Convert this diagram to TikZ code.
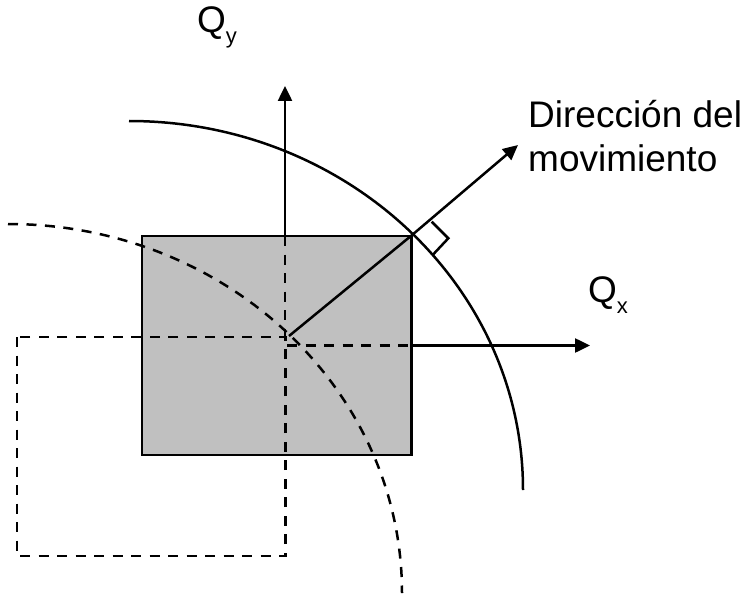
\documentclass[tikz,border=0pt]{standalone}
\usepackage{fontspec}
\setmainfont{Liberation Sans}
\usetikzlibrary{arrows.meta}
\begin{document}
\begin{tikzpicture}[x=1pt,y=-1pt,
  solidline/.style={line width=2.5pt},
  dsh/.style={line width=2.5pt, dash pattern=on 10pt off 8.5pt},
  arr/.style={line width=2.5pt,-{Triangle[length=15pt,width=14pt]}},
  lbl/.style={font=\fontsize{37}{44}\selectfont, inner sep=0pt, anchor=base west},
]
\useasboundingbox (0,0) rectangle (749,596);
% coordinates
\coordinate (gTL) at (142,236);
\coordinate (gBR) at (411.5,455);
\coordinate (P) at (411.5,235.5);
\coordinate (dTL) at (17,337);
\coordinate (dBR) at (285.5,556);
\coordinate (O) at (289,336);
\coordinate (dirTip) at (518,145);
\coordinate (qyBase) at (285,236);
\coordinate (qyMid) at (285,337);
\coordinate (qyTip) at (285,86);
\coordinate (qxStart) at (287,345.5);
\coordinate (qxBase) at (411.5,345.5);
\coordinate (qxTip) at (590,345.5);
\coordinate (arcS) at (129,121);
\coordinate (arcD) at (8,224);
\coordinate (mA) at (431.7,221.7);
\coordinate (mC) at (448.3,238.3);
\coordinate (mB) at (433.3,254.3);
% gray box
\filldraw[fill={rgb,255:red,192;green,192;blue,192}, solidline] (gTL) rectangle (gBR);
% dashed box and dashed lines
\draw[dsh] (dTL) rectangle (dBR);
\draw[dsh] (qyBase) -- (qyMid);
\draw[dsh] (qxStart) -- (qxBase);
% arcs
\draw[solidline] (arcS) arc[start angle=90, end angle=0, x radius=394pt, y radius=369pt];
\draw[dsh] (arcD) arc[start angle=90, end angle=0, x radius=394pt, y radius=369pt];
% axes
\draw[arr] (qyBase) -- (qyTip);
\draw[arr] (qxBase) -- (qxTip);
% direction of motion
\draw[arr] (O) -- (P) -- (dirTip);
% right angle marker
\draw[solidline] (mA) -- (mC) -- (mB);
% labels
\node[lbl] (qy) at (197,33) {Q\raisebox{-11pt}{\fontsize{22}{26}\selectfont y}};
\node[lbl] (qx) at (588,302) {Q\raisebox{-11pt}{\fontsize{22}{26}\selectfont x}};
\node[lbl] (dir1) at (528,128) {Dirección del};
\node[lbl] (dir2) at (528,172) {movimiento};
\end{tikzpicture}
\end{document}
